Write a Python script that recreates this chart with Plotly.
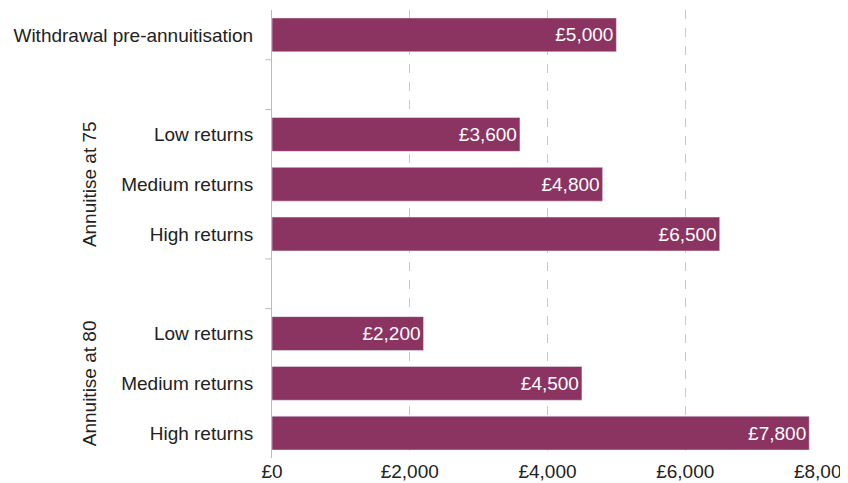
import plotly.graph_objects as go

labels = ["Withdrawal pre-annuitisation", "", "Low returns", "Medium returns", "High returns",
          "", "Low returns", "Medium returns", "High returns"]
values = [5000, None, 3600, 4800, 6500, None, 2200, 4500, 7800]
groups = ["Annuitise at 75", "Annuitise at 80"]
x_ticks = [0, 2000, 4000, 6000, 8000]

rows = list(range(len(labels)))
fig = go.Figure(go.Bar(
    x=values, y=rows, orientation="h", width=0.68,
    marker_color="#8C3461",
    text=[f"£{v:,}" if v else "" for v in values],
    textposition="inside", insidetextanchor="end",
    textfont=dict(color="white", size=19),
))

fig.update_layout(
    width=848, height=483, margin=dict(l=264, r=33, t=2, b=33),
    plot_bgcolor="white", paper_bgcolor="white", showlegend=False,
    font=dict(family="Liberation Sans, Arial", size=19, color="#222"),
)
fig.update_yaxes(range=[8.5, -0.5], tickvals=rows, ticktext=labels,
                 showline=True, linecolor="#bbb", ticks="", showgrid=False,
                 ticklabelstandoff=14, automargin=False)
fig.update_xaxes(range=[0, 8000], tickvals=x_ticks,
                 ticktext=[f"£{t:,}" for t in x_ticks],
                 showgrid=True, gridcolor="#c8c8c8", griddash="dash",
                 zeroline=False, showline=False, automargin=False)

# group dividers and rotated group labels
for yv in [0.5, 1.5, 4.5, 5.5]:
    fig.add_shape(type="line", xref="paper", yref="y", x0=-0.012, x1=0, y0=yv, y1=yv,
                  line=dict(color="#bbb", width=1))
for g, yc in zip(groups, [3, 7]):
    fig.add_annotation(text=g, xref="paper", yref="y", x=-0.355, y=yc, showarrow=False,
                       textangle=-90, font=dict(size=19))

fig.write_html("out.html")
